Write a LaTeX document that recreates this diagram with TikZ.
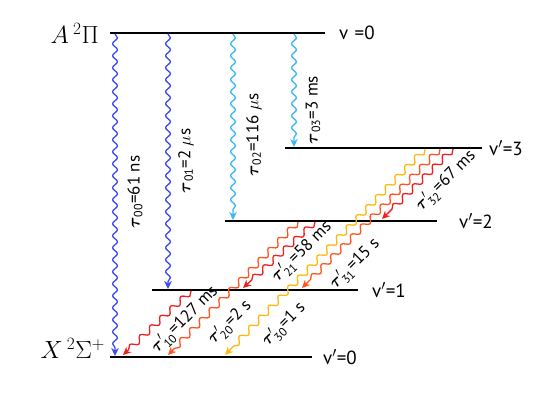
\documentclass[tikz,border=0pt]{standalone}
\usepackage{amsmath}
\usepackage{fontspec}
\setmainfont{PT Sans}
\usetikzlibrary{decorations.pathmorphing,arrows.meta}
\definecolor{dblue}{HTML}{3A4CF0}
\definecolor{lblue}{HTML}{3CB8F0}
\definecolor{wred}{HTML}{F02020}
\definecolor{worange}{HTML}{FF5522}
\definecolor{wyellow}{HTML}{FFB810}
\tikzset{
  level/.style={line width=1.8pt, black},
  wave/.style={decorate, decoration={snake, amplitude=2.4pt, segment length=12pt, post length=7pt},
    line width=1.3pt, -{Stealth[length=8pt,width=7.5pt,inset=2.5pt]}},
  dwave/.style={wave, decoration={snake, amplitude=3pt, segment length=14pt, post length=7pt}},
  lab/.style={font=\fontsize{17}{17}\selectfont, inner sep=0pt},
  vlab/.style={font=\fontsize{19}{19}\selectfont, inner sep=0pt, anchor=west},
  term/.style={font=\fontsize{26}{26}\selectfont, inner sep=0pt, anchor=east}
}
\newcommand{\tb}{\boldsymbol{\tau}}
\begin{document}
\begin{tikzpicture}[x=1pt,y=-1pt]
\useasboundingbox (0,0) rectangle (540,396);
% levels
\coordinate (A-l) at (110,33);  \coordinate (A-r) at (325,33);
\coordinate (v3-l) at (285,148); \coordinate (v3-r) at (482,148);
\coordinate (v2-l) at (225,221); \coordinate (v2-r) at (437,221);
\coordinate (v1-l) at (152,290); \coordinate (v1-r) at (358,290);
\coordinate (v0-l) at (110,357); \coordinate (v0-r) at (312,357);
\draw[level] (A-l) -- (A-r);
\draw[level] (v3-l) -- (v3-r);
\draw[level] (v2-l) -- (v2-r);
\draw[level] (v1-l) -- (v1-r);
\draw[level] (v0-l) -- (v0-r);
% level labels
\node[term] (tA) at (99,33) {$A\,^2\Pi$};
\node[term] (tX) at (105,348) {$X\,^2\Sigma^+$};
\node[vlab] (lA) at (339,33) {v\,\,=0};
\node[vlab] (l3) at (489,148) {v$'$=3};
\node[vlab] (l2) at (459,221) {v$'$=2};
\node[vlab] (l1) at (372,290) {v$'$=1};
\node[vlab] (l0) at (323,357) {v$'$=0};
% vertical arrows
\coordinate (s00) at (115,34); \coordinate (e00) at (115,356);
\coordinate (s01) at (168,34); \coordinate (e01) at (168,289);
\coordinate (s02) at (233,34); \coordinate (e02) at (233,220);
\coordinate (s03) at (294,34); \coordinate (e03) at (294,147);
\draw[wave, dblue] (s00) -- (e00);
\draw[wave, dblue] (s01) -- (e01);
\draw[wave, lblue] (s02) -- (e02);
\draw[wave, lblue] (s03) -- (e03);
\node[lab, rotate=90] (t00) at (135,192) {$\tb_{\text{00}}$=61 ns};
\node[lab, rotate=90] (t01) at (186,161) {$\tb_{\text{01}}$=2 $\mu$s};
\node[lab, rotate=90] (t02) at (254,135) {$\tb_{\text{02}}$=116 $\mu$s};
\node[lab, rotate=90] (t03) at (313,110) {$\tb_{\text{03}}$=3 ms};
% diagonal arrows
\coordinate (s32) at (453,149); \coordinate (e32) at (382,219);
\coordinate (s31) at (440,149); \coordinate (e31) at (302,288);
\coordinate (s30) at (425,149); \coordinate (e30) at (225,355);
\coordinate (s21) at (315,222); \coordinate (e21) at (243,288);
\coordinate (s20) at (298,222); \coordinate (e20) at (168,355);
\coordinate (s10) at (191,291); \coordinate (e10) at (123,355);
\draw[dwave, wyellow] (s30) -- (e30);
\draw[dwave, worange] (s31) -- (e31);
\draw[dwave, wred] (s32) -- (e32);
\draw[dwave, worange] (s20) -- (e20);
\draw[dwave, wred] (s21) -- (e21);
\draw[dwave, wred] (s10) -- (e10);
\node[lab, rotate=45] (t32) at (446,181) {$\tb'_{\text{32}}$=67 ms};
\node[lab, rotate=45] (t21) at (302,252) {$\tb'_{\text{21}}$=58 ms};
\node[lab, rotate=45] (t31) at (355,264) {$\tb'_{\text{31}}$=15 s};
\node[lab, rotate=45] (t10) at (185,320) {$\tb'_{\text{10}}$=127 ms};
\node[lab, rotate=45] (t20) at (230,323) {$\tb'_{\text{20}}$=2 s};
\node[lab, rotate=45] (t30) at (284,325) {$\tb'_{\text{30}}$=1 s};
\end{tikzpicture}
\end{document}
